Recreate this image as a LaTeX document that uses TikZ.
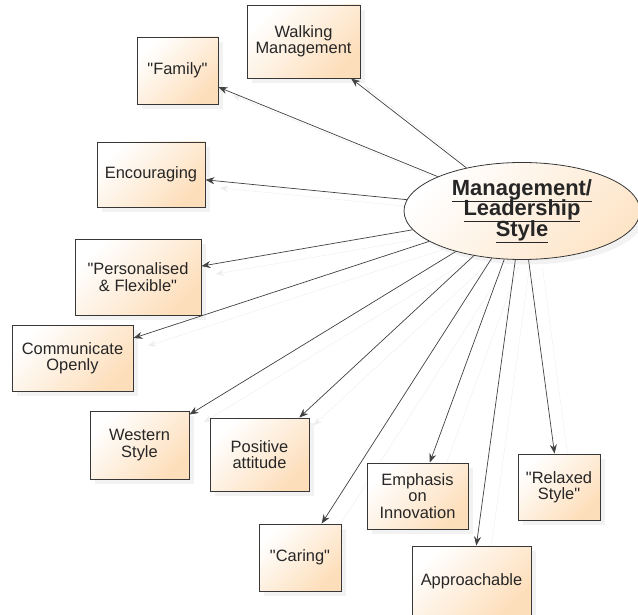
\documentclass[tikz,border=0pt]{standalone}
\usepackage{fontspec}
\setmainfont{Liberation Sans}
\usetikzlibrary{arrows.meta,shapes.geometric,shadows,backgrounds}
\definecolor{boxOrange}{RGB}{253,222,186}
\definecolor{edgeGrey}{RGB}{55,55,55}
\newcommand{\qt}[1]{\textquotedbl#1\textquotedbl}
\tikzset{%
  >={Stealth[width=7bp,length=9bp]},
  % Specifications for style of nodes:
        base/.style = {rectangle, draw=edgeGrey, line width=0.9bp,
                       top color=white, bottom color=boxOrange, shading angle=45,
                       align=center, text=black!85, inner sep=1bp,
                       font=\fontsize{16.5}{16.5}\selectfont,
                       drop shadow={shadow xshift=5bp, shadow yshift=-5bp, opacity=0.10}},
   attribute/.style = {base},
   coreStyle/.style = {base, ellipse, line width=0.8bp,
                       bottom color=boxOrange!80, shading angle=45,
                       minimum width=236bp, minimum height=97bp,
                       font={\fontsize{22}{20.5}\selectfont\bfseries\lineskiplimit=-20bp}},
   connector/.style = {->, draw=black!75, line width=0.7bp,
                       preaction={draw=black!7,
                                  transform canvas={shift={(14bp,-8bp)}}}},
}

\begin{document}
\begin{tikzpicture}[x=1bp, y=-1bp]
  \useasboundingbox (0,0) rectangle (638,615);
  % Specification of nodes (position, etc.)
  \node (mgmtStyle)    [coreStyle]  at (522,211)
        {\underline{Management/}\\\underline{Leadership}\\\underline{Style}};

  \node (walkingMgmt)  [attribute, minimum width=113bp, minimum height=73bp] at (303.5,41.5) {Walking\\Management};
  \node (family)       [attribute, minimum width=81bp,  minimum height=67bp] at (177.5,70.5) {\qt{Family}};
  \node (encouraging)  [attribute, minimum width=108bp, minimum height=65bp] at (151,174.5)  {Encouraging};
  \node (personalised) [attribute, minimum width=126bp, minimum height=76bp] at (138,277)    {\textquotedbl Personalised\\\& Flexible\textquotedbl};
  \node (communicate)  [attribute, minimum width=121bp, minimum height=66bp] at (72.5,358)   {Communicate\\Openly};
  \node (western)      [attribute, minimum width=99bp,  minimum height=68bp] at (139.5,445)  {Western\\Style};
  \node (positive)     [attribute, minimum width=99bp,  minimum height=73bp] at (259.5,454.5) {Positive\\attitude};
  \node (caring)       [attribute, minimum width=82bp,  minimum height=67bp] at (300,557.5)  {\qt{Caring}};
  \node (innovation)   [attribute, minimum width=101bp, minimum height=66bp] at (417.5,496)  {Emphasis\\on\\Innovation};
  \node (approachable) [attribute, minimum width=119bp, minimum height=70bp] at (471.5,581)  {Approachable};
  \node (relaxed)      [attribute, minimum width=82bp,  minimum height=66bp] at (559,487)    {\textquotedbl Relaxed\\Style\textquotedbl};

  % Specification of lines between nodes specified above
  \begin{scope}[on background layer]
    \draw[connector] (mgmtStyle) -- (walkingMgmt);
    \draw[connector] (mgmtStyle) -- (family);
    \draw[connector] (mgmtStyle) -- (encouraging);
    \draw[connector] (mgmtStyle) -- (personalised);
    \draw[connector] (mgmtStyle) -- (communicate);
    \draw[connector] (mgmtStyle) -- (western);
    \draw[connector] (mgmtStyle) -- (positive);
    \draw[connector] (mgmtStyle) -- (caring);
    \draw[connector] (mgmtStyle) -- (innovation);
    \draw[connector] (mgmtStyle) -- (approachable);
    \draw[connector] (mgmtStyle) -- (relaxed);
  \end{scope}
\end{tikzpicture}
\end{document}
